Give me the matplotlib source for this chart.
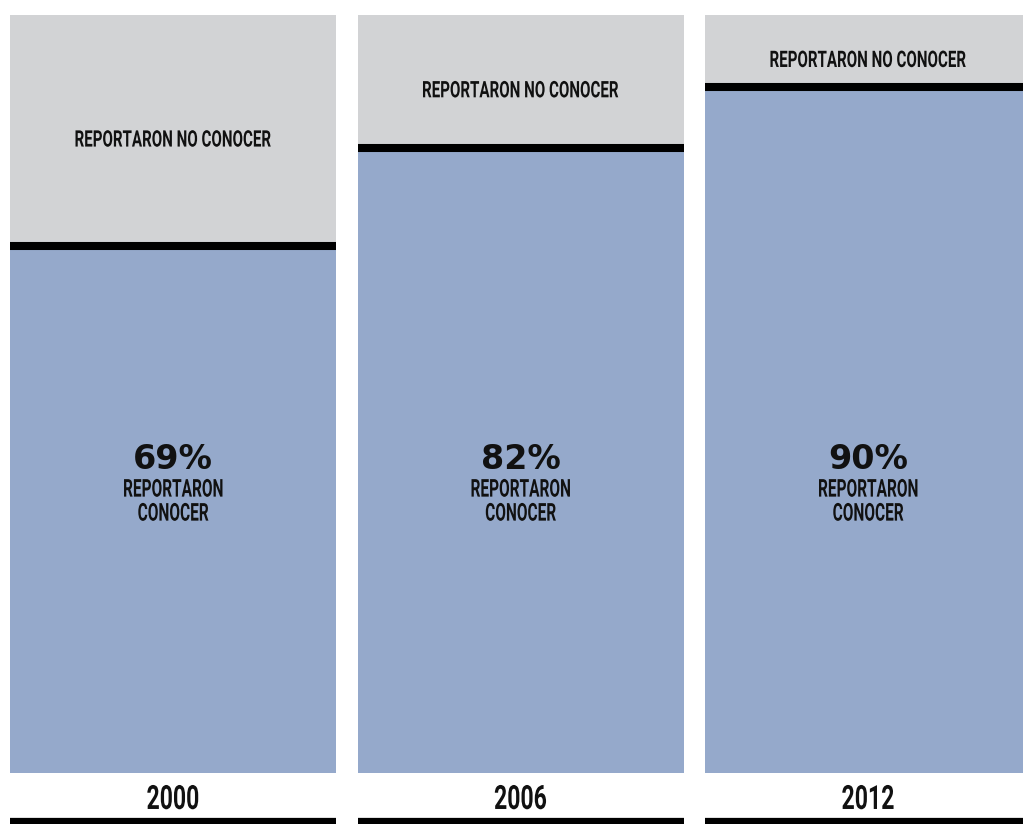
import matplotlib
matplotlib.use("Agg")
import matplotlib.pyplot as plt
from matplotlib.patheffects import AbstractPathEffect
from matplotlib.transforms import Affine2D

years = ["2000", "2006", "2012"]
conocer = [69, 82, 90]
pct_labels = ["69%", "82%", "90%"]
top_label = "REPORTARON NO CONOCER"
body_label = "REPORTARON\nCONOCER"

BLUE = "#95a9cb"
GREY = "#d2d3d5"
INK = "#111111"
NARROW = ["Roboto", "DejaVu Sans"]


class XSqueeze(AbstractPathEffect):
    """Draw text narrower (condensed look) about a fixed display x."""

    def __init__(self, sx, cx):
        super().__init__()
        self.sx = sx
        self.cx = cx

    def draw_path(self, renderer, gc, tpath, affine, rgbFace=None):
        t = affine + Affine2D().translate(-self.cx, 0).scale(self.sx, 1).translate(self.cx, 0)
        renderer.draw_path(gc, tpath, t, rgbFace)


fig = plt.figure(figsize=(10.23, 8.24), dpi=100)
ax = fig.add_axes([0, 0, 1, 1])
ax.set_xlim(-0.498, 2.446)
ax.set_ylim(-6.73, 101.98)
ax.axis("off")
renderer = fig.canvas.get_renderer()

w = 0.938
x = list(range(len(years)))
ax.bar(x, [100] * 3, width=w, color=GREY, linewidth=0)
ax.bar(x, conocer, width=w, color=BLUE, linewidth=0)


def squeezed_text(xi, y, s, size, target_w, max_w, **kw):
    t = ax.text(xi, y, s, ha="center", va="center", family=NARROW,
                fontweight="bold", fontsize=size, color=INK, **kw)
    wnat = t.get_window_extent(renderer).width
    if wnat > max_w:
        t.set_fontsize(size * max_w / wnat)
        wnat = t.get_window_extent(renderer).width
    cx = ax.transData.transform((xi, 0))[0]
    t.set_path_effects([XSqueeze(target_w / wnat, cx)])
    return t


for xi, v, yr, pl in zip(x, conocer, years, pct_labels):
    ax.hlines(v + 0.5, xi - w / 2, xi + w / 2, color="black", linewidth=5.8)
    squeezed_text(xi, (100 + v) / 2 - 1.0, top_label, 18, 197, 296)
    ax.text(xi, 41.4, pl, ha="center", va="center", family="DejaVu Sans",
            fontweight="bold", fontsize=24, color=INK)
    squeezed_text(xi, 35.8, body_label, 18, 100, 160, linespacing=1.0)
    squeezed_text(xi, -3.56, yr, 24, 53, 90)
    ax.hlines(-6.4, xi - w / 2, xi + w / 2, color="black", linewidth=4.5)

fig.savefig("out.png", dpi=100)
